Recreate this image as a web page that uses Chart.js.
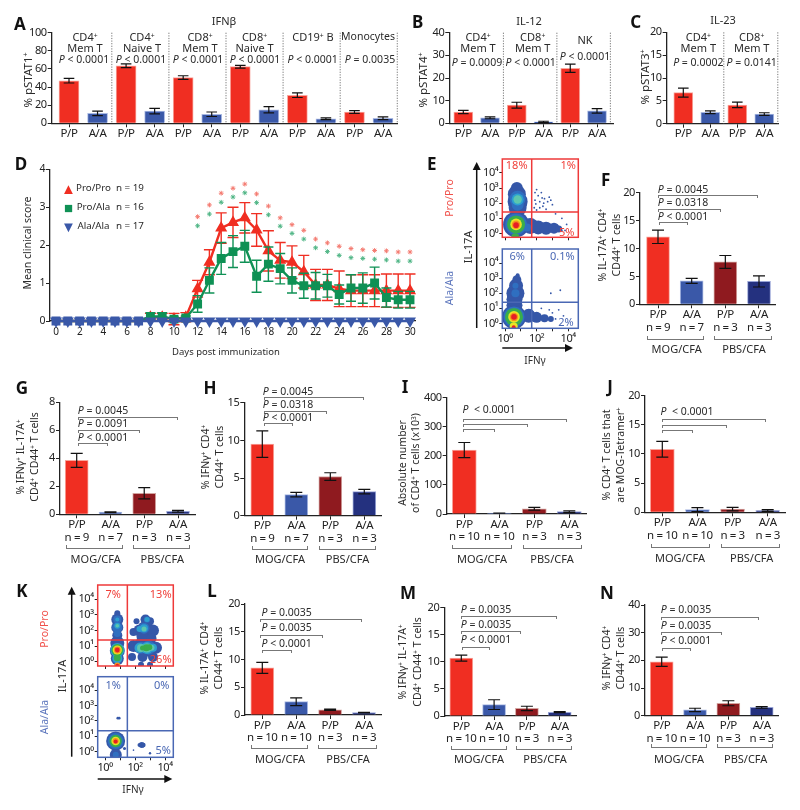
<!DOCTYPE html>
<html>
<head>
<meta charset="utf-8">
<title>pSTAT and EAE panels</title>
<script src="https://cdn.jsdelivr.net/npm/chart.js@4"></script>
<style>
  html, body { margin: 0; padding: 0; background: #fff; }
  #page { position: relative; width: 800px; height: 810px; overflow: hidden; font-family: "Noto Sans", sans-serif; color: #2a2a2a; }
  #page canvas { position: absolute; }
  .t { position: absolute; white-space: nowrap; line-height: 1; transform: translate(-50%, -50%); z-index: 5; }
  .t sup { font-size: 62%; line-height: 0; vertical-align: baseline; position: relative; top: -0.5em; }
  .b { position: absolute; box-sizing: border-box; z-index: 4; }
  svg { position: absolute; left: 0; top: 0; z-index: 4; }
</style>
</head>
<body>
<div id="page"></div>
<script>
// Bar values and error bars, panels A-C
const aValues = [47, 11, 63.5, 13.5, 50.5, 10, 62.5, 15, 31, 5, 12.5, 5.5];
const aErrors = [2.5, 2.5, 2, 3, 2, 2.5, 1.5, 3.5, 2.5, 1, 1.5, 1.5];
const bValues = [5, 2.4, 8, 0.6, 24.3, 5.5];
const bErrors = [0.7, 0.4, 1.3, 0.3, 1.8, 1];
const cValues = [6.8, 2.5, 4.1, 2.1];
const cErrors = [1, 0.3, 0.6, 0.3];

// Panels F-N
const fValues = [12.1, 4.2, 7.6, 4.1];
const fErrors = [1.2, 0.45, 1.15, 1];
const gValues = [3.85, 0.15, 1.5, 0.22];
const gErrors = [0.5, 0.03, 0.4, 0.06];
const hValues = [9.5, 2.8, 5.2, 3.2];
const hErrors = [1.75, 0.3, 0.5, 0.3];
const iValues = [220, 3, 18, 8];
const iErrors = [26, 0.5, 5, 3];
const jValues = [10.8, 0.45, 0.55, 0.3];
const jErrors = [1.35, 0.35, 0.3, 0.15];
const lValues = [8.5, 2.4, 0.95, 0.45];
const lErrors = [1, 0.7, 0.1, 0.05];
const mValues = [10.7, 2.1, 1.4, 0.7];
const mErrors = [0.55, 0.9, 0.4, 0.1];
const nValues = [19.5, 2.1, 4.5, 3];
const nErrors = [1.7, 0.6, 0.9, 0.3];

const genotypes = ['P/P', 'A/A'];
const nSmall = ['n = 9', 'n = 7', 'n = 3', 'n = 3'];
const nLarge = ['n = 10', 'n = 10', 'n = 3', 'n = 3'];

// Panel D, clinical score by day
const days = [0, 1, 2, 3, 4, 5, 6, 7, 8, 9, 10, 11, 12, 13, 14, 15, 16, 17, 18, 19, 20, 21, 22, 23, 24, 25, 26, 27, 28, 29, 30];
const proPro = [0, 0, 0, 0, 0, 0, 0, 0, 0.1, 0.1, 0.05, 0.1, 0.85, 1.55, 2.45, 2.6, 2.72, 2.4, 1.85, 1.6, 1.55, 1.3, 0.95, 0.95, 0.85, 0.8, 0.8, 0.8, 0.8, 0.8, 0.8];
const proProErr = [0, 0, 0, 0, 0, 0, 0, 0, 0.1, 0.1, 0.15, 0.12, 0.22, 0.33, 0.4, 0.4, 0.4, 0.43, 0.53, 0.47, 0.43, 0.43, 0.41, 0.41, 0.47, 0.42, 0.42, 0.42, 0.44, 0.44, 0.44];
const proAla = [0, 0, 0, 0, 0, 0, 0, 0, 0.12, 0.12, 0.05, 0.08, 0.45, 1.07, 1.65, 1.83, 1.97, 1.18, 1.5, 1.38, 1.07, 0.93, 0.93, 0.93, 0.7, 0.87, 0.87, 1, 0.62, 0.56, 0.56];
const proAlaErr = [0, 0, 0, 0, 0, 0, 0, 0, 0.1, 0.1, 0.05, 0.05, 0.22, 0.33, 0.42, 0.42, 0.42, 0.42, 0.45, 0.4, 0.33, 0.33, 0.35, 0.3, 0.25, 0.35, 0.4, 0.42, 0.25, 0.22, 0.22];
const alaAla = [0, 0, 0, 0, 0, 0, 0, 0, 0, 0, 0, 0, 0, 0, 0, 0, 0, 0, 0, 0, 0, 0, 0, 0, 0, 0, 0, 0, 0, 0, 0];
const starDays = [12, 13, 14, 15, 16, 17, 18, 19, 20, 21, 22, 23, 24, 25, 26, 27, 28, 29, 30];
const starsRed = [2.75, 3.06, 3.37, 3.5, 3.61, 3.35, 3.03, 2.72, 2.54, 2.39, 2.16, 2.06, 1.97, 1.91, 1.88, 1.86, 1.85, 1.82, 1.82];
const starsGreen = [2.51, 2.82, 3.13, 3.27, 3.38, 3.12, 2.8, 2.5, 2.31, 2.16, 1.93, 1.83, 1.73, 1.67, 1.65, 1.63, 1.61, 1.58, 1.58];

// Flow plots: [log10 x, log10 y, size, density level], painted in order
const flowEPro = [
  [1.9, 2.7, 0.9, 0], [2.1, 2.5, 0.9, 0], [2.3, 2.7, 0.9, 0], [2.5, 2.3, 0.9, 0], [1.9, 2.2, 0.9, 0], [2.2, 2.1, 0.9, 0],
  [2.7, 2.1, 0.9, 0], [3.0, 1.9, 0.9, 0], [2.4, 1.8, 0.9, 0], [2.8, 2.4, 0.9, 0], [1.85, 1.7, 0.9, 0], [2.6, 1.6, 0.9, 0],
  [3.2, 1.3, 0.9, 0], [2.0, 1.55, 0.9, 0], [3.6, 1.0, 0.9, 0], [3.9, 0.6, 0.9, 0], [3.6, 0.2, 0.9, 0], [3.8, 0.2, 0.9, 0],
  [2.0, 2.9, 0.9, 0], [2.2, 1.7, 0.9, 0], [1.95, 1.95, 0.9, 0], [2.45, 2.0, 0.9, 0], [2.9, 2.2, 0.9, 0], [2.35, 2.35, 0.9, 0],
  [0.7, 0.6, 13, 0], [1.6, 0.5, 8, 0], [2.1, 0.4, 7, 0], [2.6, 0.35, 6.5, 0], [3.1, 0.35, 5.5, 0], [3.4, 0.3, 3.5, 0],
  [0.75, 3.0, 6, 0], [0.75, 2.6, 9, 0], [0.8, 2.1, 10, 0], [0.8, 1.7, 9, 0],
  [0.8, 2.3, 8, 1], [0.8, 1.9, 6, 1], [0.7, 0.6, 10.8, 1], [1.4, 0.4, 4, 1],
  [0.8, 2.25, 6, 2], [0.8, 2.25, 4.2, 3], [0.7, 0.6, 9, 4], [0.65, -0.25, 4, 4],
  [0.7, 0.6, 5.8, 5], [0.7, 0.58, 4.2, 6], [0.7, 0.55, 2.8, 7]
];
const flowEAla = [
  [2.9, 2.0, 0.9, 0], [3.5, 2.2, 0.9, 0], [3.4, 0.9, 0.9, 0], [3.7, 0.5, 0.9, 0], [2.8, 0.9, 0.9, 0], [3.2, 0.3, 0.9, 0], [3.0, 0.7, 0.9, 0], [2.3, 1.0, 0.9, 0],
  [0.57, 0.43, 12, 0], [0.6, 1.2, 8, 0], [0.6, 1.6, 8, 0], [0.66, 2.0, 9, 0], [0.7, 2.5, 7, 0], [0.75, 2.9, 4.5, 0], [0.8, 3.2, 2, 0],
  [1.5, 0.5, 7, 0], [2.0, 0.4, 5.5, 0], [2.5, 0.35, 4, 0], [2.9, 0.3, 3, 0],
  [0.66, 2.0, 4, 1], [0.66, 2.5, 3, 1], [0.57, 0.43, 10.5, 1], [0.57, 0.43, 9, 4], [0.57, 0.43, 5.8, 5], [0.55, -0.2, 4, 5],
  [0.57, 0.43, 4.2, 6], [0.57, 0.43, 2.8, 7], [0.55, -0.25, 2, 7]
];
const flowKPro = [
  [0.82, 0.2, 6.5, 0], [0.82, 0.7, 7.5, 0], [0.82, 1.2, 7, 0], [0.82, 1.7, 5, 0], [0.82, 2.2, 6, 0], [0.82, 2.7, 6, 0], [0.82, 3.1, 3, 0],
  [1.9, 1.9, 4, 0], [2.3, 2.0, 6, 0], [2.7, 2.1, 8, 0], [3.2, 2.0, 6, 0], [2.7, 2.7, 5, 0], [2.1, 2.6, 3, 0], [3.0, 2.6, 4, 0], [2.5, 1.6, 6, 0], [3.1, 1.5, 5, 0],
  [1.9, 1.0, 6, 0], [2.4, 1.0, 8, 0], [2.9, 0.9, 9, 0], [3.4, 0.9, 6, 0], [1.8, 0.3, 4, 0], [2.5, 0.3, 5, 0], [3.2, 0.3, 5, 0], [2.4, -0.2, 3, 0], [3.0, -0.2, 3, 0],
  [0.82, 2.2, 5, 1], [0.82, 2.7, 4, 1], [0.82, 1.8, 3.5, 1], [2.6, 2.15, 5.5, 1], [2.8, 2.7, 3.2, 1], [2.4, 0.9, 6, 1], [2.9, 0.9, 7, 1],
  [0.82, 2.3, 3, 2], [0.82, 2.7, 2, 2], [2.6, 2.15, 4, 2], [2.8, 2.7, 2.5, 2], [2.3, 2.1, 3, 2], [2.3, 0.88, 5, 2], [2.8, 0.88, 6, 2], [3.2, 0.9, 4, 2], [0.82, 0.75, 7, 2], [0.82, 0.2, 5, 2],
  [0.82, 2.3, 1.8, 3], [2.6, 2.1, 2.5, 3], [2.4, 0.88, 4, 3], [2.8, 0.88, 4.5, 3], [3.1, 0.9, 3, 3],
  [2.75, 0.9, 3.5, 4], [2.95, 0.92, 3, 4], [2.5, 0.88, 2.5, 4], [0.82, 0.75, 6, 4], [0.82, 0.25, 3.5, 4],
  [0.82, 0.75, 4.6, 5], [0.82, -0.25, 3, 6], [0.82, 0.75, 3.4, 6], [0.82, 0.75, 2.4, 7], [0.82, -0.25, 1.8, 7]
];
const flowKAla = [
  [0.85, 2.18, 1.3, 0], [0.95, 2.18, 1.3, 0], [2.45, 0.43, 3, 0], [2.3, 0.43, 2, 0], [2.55, 0.43, 2.4, 0], [3.0, -0.1, 1.2, 0], [1.9, 0.1, 0.8, 0],
  [0.71, 0.69, 9.5, 0], [0.72, -0.2, 6, 0], [1.3, 0.2, 1.5, 0],
  [0.71, 0.69, 8, 1], [0.72, -0.2, 3, 1], [0.71, 0.69, 6.2, 4], [0.71, 0.69, 4.3, 5], [0.71, 0.69, 3, 6], [0.71, 0.66, 2, 7]
];
const flowTicks = [0, 1, 2, 3, 4];
const decadeLabels = ['10⁰', '10¹', '10²', '10³', '10⁴'];

const RED = '#f02e22', BLUE = '#3a58a8', DARKRED = '#8f1a1f', NAVY = '#24317f';
const GREEN = '#0f9155', MARKBLUE = '#3a58a8';
const EDGES = { [RED]: '#f8a59c', [BLUE]: '#a9b9e2', [DARKRED]: '#d3a4a0', [NAVY]: '#98a4d6' };
const INK = '#222';
const DENSITY = ['#3557a8', '#2f6fc0', '#2c9fd0', '#5cc6ae', '#39ad4b', '#e9e325', '#f5921e', '#e71d25'];

const page = document.getElementById('page');

const addText = (x, y, html, opts = {}) => {
  const el = document.createElement('div');
  el.className = 't';
  el.innerHTML = html;
  el.style.left = x + 'px';
  el.style.top = y + 'px';
  el.style.fontSize = (opts.size || 11) + 'px';
  if (opts.color) el.style.color = opts.color;
  if (opts.weight) el.style.fontWeight = opts.weight;
  if (opts.rot) el.style.transform = `translate(-50%, -50%) rotate(${opts.rot}deg)`;
  page.appendChild(el);
};

// comparison bracket: tails down. group bracket: tails up.
const addBracket = (x1, x2, y, up) => {
  const el = document.createElement('div');
  el.className = 'b';
  el.style.left = x1 + 'px';
  el.style.width = (x2 - x1) + 'px';
  el.style.height = (up ? 4 : 3) + 'px';
  el.style.top = (up ? y - 4 : y) + 'px';
  const line = '#777';
  el.style.borderLeft = `1px solid ${line}`;
  el.style.borderRight = `1px solid ${line}`;
  el.style[up ? 'borderBottom' : 'borderTop'] = `1px solid ${line}`;
  page.appendChild(el);
};

const letter = (x, y, s) => addText(x, y, s, { size: 17, weight: 700, color: '#111' });

// tighter tick text, Noto is wider than the figure's font
const tightText = {
  id: 'tightText',
  beforeDraw(chart) { chart.ctx.letterSpacing = '-0.4px'; }
};

// whiskers for any dataset carrying an errors array
const whiskers = {
  id: 'whiskers',
  afterDatasetDraw(chart, args) {
    const ds = chart.data.datasets[args.index];
    if (!ds.errors) return;
    const meta = chart.getDatasetMeta(args.index);
    const yScale = chart.scales.y;
    const ctx = chart.ctx;
    ctx.save();
    ctx.strokeStyle = ds.errorColor || '#111';
    ctx.lineWidth = ds.errorWidth || 1.2;
    ds.errors.forEach((err, i) => {
      if (!err) return;
      const x = meta.data[i].x;
      const v = ds.data[i].y;
      const hi = yScale.getPixelForValue(v + err);
      const lo = yScale.getPixelForValue(v - err);
      const cap = ds.capWidth || 6;
      ctx.beginPath();
      ctx.moveTo(x, hi); ctx.lineTo(x, lo);
      ctx.moveTo(x - cap, hi); ctx.lineTo(x + cap, hi);
      ctx.moveTo(x - cap, lo); ctx.lineTo(x + cap, lo);
      ctx.stroke();
    });
    ctx.restore();
  }
};

// dotted separators in panels A-C, at x scale values
const separators = {
  id: 'separators',
  afterDraw(chart, args, opts) {
    if (!opts.at) return;
    const { ctx, chartArea, scales } = chart;
    ctx.save();
    ctx.strokeStyle = '#777';
    ctx.lineWidth = 1;
    ctx.setLineDash([1.2, 1.4]);
    opts.at.forEach(v => {
      const x = scales.x.getPixelForValue(v);
      ctx.beginPath();
      ctx.moveTo(x, chartArea.top);
      ctx.lineTo(x, chartArea.bottom);
      ctx.stroke();
    });
    ctx.restore();
  }
};

// quadrant gates on the flow plots
const gates = {
  id: 'gates',
  afterDraw(chart, args, opts) {
    if (opts.color === undefined) return;
    const { ctx, chartArea: a, scales } = chart;
    ctx.save();
    ctx.strokeStyle = opts.color;
    ctx.lineWidth = 1.5;
    ctx.strokeRect(a.left, a.top, a.right - a.left, a.bottom - a.top);
    const gx = scales.x.getPixelForValue(opts.x);
    const gy = scales.y.getPixelForValue(opts.y);
    ctx.beginPath();
    ctx.moveTo(gx, a.top); ctx.lineTo(gx, a.bottom);
    ctx.moveTo(a.left, gy); ctx.lineTo(a.right, gy);
    ctx.stroke();
    ctx.restore();
  }
};

Chart.register(tightText, whiskers, separators, gates);

// make a canvas whose plot area lands on the given page rectangle
const pinnedCanvas = (left, right, top, bottom, marginLeft, marginBottom) => {
  const cssLeft = Math.floor(left) - marginLeft;
  const cssTop = Math.floor(top) - 10;
  const w = Math.ceil(right - cssLeft) + 14;
  const h = Math.ceil(bottom - cssTop) + marginBottom;
  const canvas = document.createElement('canvas');
  canvas.width = w;
  canvas.height = h;
  canvas.style.left = cssLeft + 'px';
  canvas.style.top = cssTop + 'px';
  canvas.style.width = w + 'px';
  canvas.style.height = h + 'px';
  page.appendChild(canvas);
  return {
    canvas,
    padding: { left: 0, top: top - cssTop, right: w - (right - cssLeft), bottom: 0 },
    yWidth: left - cssLeft,
    xHeight: h - (bottom - cssTop)
  };
};

const axisLine = { color: INK, width: 1.3 };
const tickGrid = { drawOnChartArea: false, drawTicks: true, tickLength: 4, color: INK, offset: false };

const barPanel = (cfg) => {
  const pin = pinnedCanvas(cfg.left, cfg.right, cfg.top, cfg.bottom, 44, 48);
  const n = cfg.values.length;
  const step = (cfg.last - cfg.first) / (n - 1);
  const colors = cfg.values.map((v, i) => cfg.colors[i % cfg.colors.length]);
  new Chart(pin.canvas, {
    type: 'bar',
    data: {
      datasets: [{
        data: cfg.values.map((v, i) => ({ x: i, y: v })),
        backgroundColor: colors,
        borderColor: colors.map(c => EDGES[c]),
        borderWidth: 1,
        barThickness: cfg.barWidth,
        errors: cfg.errors,
        capWidth: cfg.cap || 6
      }]
    },
    options: {
      responsive: false,
      animation: false,
      layout: { padding: pin.padding },
      plugins: { legend: { display: false }, tooltip: { enabled: false }, separators: { at: cfg.separators } },
      scales: {
        x: {
          type: 'linear',
          offset: false,
          min: (cfg.left - cfg.first) / step,
          max: (cfg.right - cfg.first) / step,
          border: axisLine,
          grid: tickGrid,
          afterBuildTicks: s => { s.ticks = cfg.values.map((v, i) => ({ value: i })); },
          afterFit: s => { s.height = pin.xHeight; },
          ticks: {
            autoSkip: false, maxRotation: 0, padding: 0, color: INK,
            font: { family: 'Noto Sans', size: 11.5, lineHeight: 1.1 },
            callback: (v) => cfg.counts ? [genotypes[v % 2], cfg.counts[v]] : genotypes[v % 2]
          }
        },
        y: {
          min: 0, max: cfg.max,
          border: axisLine,
          grid: tickGrid,
          afterFit: s => { s.width = pin.yWidth; },
          ticks: { stepSize: cfg.yStep, padding: 1, color: INK, font: { family: 'Noto Sans', size: 11 } }
        }
      }
    }
  });
};

const flowPanel = (cfg) => {
  const pin = pinnedCanvas(cfg.left, cfg.right, cfg.top, cfg.bottom, 30, 22);
  new Chart(pin.canvas, {
    type: 'bubble',
    data: {
      datasets: [{
        data: cfg.points.map(p => ({ x: p[0], y: p[1], r: p[2], level: p[3] })),
        backgroundColor: ctx => DENSITY[ctx.raw ? ctx.raw.level : 0],
        borderWidth: 0
      }]
    },
    options: {
      responsive: false,
      animation: false,
      layout: { padding: pin.padding },
      plugins: { legend: { display: false }, tooltip: { enabled: false }, gates: { x: cfg.gateX, y: cfg.gateY, color: cfg.color } },
      scales: {
        x: {
          type: 'linear', min: (cfg.left - cfg.x0) / cfg.xPer, max: (cfg.right - cfg.x0) / cfg.xPer,
          border: { display: false },
          grid: { drawOnChartArea: false, tickLength: 3, color: INK },
          afterBuildTicks: s => { s.ticks = flowTicks.map(v => ({ value: v })); },
          afterFit: s => { s.height = pin.xHeight; },
          ticks: {
            display: cfg.showX, autoSkip: false, maxRotation: 0, padding: 1, color: INK,
            font: { family: 'Noto Sans', size: 11 },
            callback: v => v % 2 === 0 ? decadeLabels[v] : ''
          }
        },
        y: {
          type: 'linear', min: (cfg.y0 - cfg.bottom) / cfg.yPer, max: (cfg.y0 - cfg.top) / cfg.yPer,
          border: { display: false },
          grid: { drawOnChartArea: false, tickLength: 3, color: INK },
          afterBuildTicks: s => { s.ticks = flowTicks.map(v => ({ value: v })); },
          afterFit: s => { s.width = pin.yWidth; },
          ticks: { autoSkip: false, padding: 1, color: INK, font: { family: 'Noto Sans', size: 11 }, callback: v => decadeLabels[v] }
        }
      }
    }
  });
};

// ---------- A, B, C ----------
barPanel({ values: aValues, errors: aErrors, colors: [RED, BLUE], left: 51.7, right: 397.7, top: 32.7, bottom: 123.3, first: 69, last: 383, max: 100, yStep: 20, barWidth: 20, cap: 5.3, separators: [1.5, 3.5, 5.5, 7.5, 9.5, 11.5] });
barPanel({ values: bValues, errors: bErrors, colors: [RED, BLUE], left: 449.3, right: 613, top: 32.7, bottom: 123.3, first: 463.3, last: 597, max: 40, yStep: 10, barWidth: 19, cap: 5.3, separators: [1.5, 3.5, 5.5] });
barPanel({ values: cValues, errors: cErrors, colors: [RED, BLUE], left: 666.7, right: 778, top: 32.3, bottom: 123.7, first: 683.3, last: 764.3, max: 20, yStep: 5, barWidth: 19, cap: 5.3, separators: [1.5, 3.5] });

letter(20, 23, 'A'); letter(417.7, 21, 'B'); letter(635.7, 21, 'C');
addText(224, 20, 'IFNβ'); addText(529, 20, 'IL-12'); addText(723, 19, 'IL-23');
addText(28, 80, '% pSTAT1<sup>+</sup>', { rot: -90, size: 11.5 });
addText(423, 80, '% pSTAT4<sup>+</sup>', { rot: -90, size: 11.5 });
addText(645, 77, '% pSTAT3<sup>+</sup>', { rot: -90, size: 11.5 });

[[85, 'CD4<sup>+</sup>', 'Mem T', 84, '&lt; 0.0001'], [142, 'CD4<sup>+</sup>', 'Naive T', 141, '&lt; 0.0001'], [200, 'CD8<sup>+</sup>', 'Mem T', 198, '&lt; 0.0001'], [254.5, 'CD8<sup>+</sup>', 'Naive T', 255, '&lt; 0.0001']].forEach(c => {
  addText(c[0], 36, c[1]); addText(c[0], 47, c[2]); addText(c[3], 58.5, `<i>P</i> ${c[4]}`, { size: 10.5 });
});
addText(313, 36, 'CD19<sup>+</sup> B'); addText(312.7, 58.5, '<i>P</i> &lt; 0.0001', { size: 10.5 });
addText(368, 36, 'Monocytes', { size: 10.5 }); addText(370, 58.5, '<i>P</i> = 0.0035', { size: 10.5 });

addText(478, 36, 'CD4<sup>+</sup>'); addText(478, 47, 'Mem T'); addText(477, 62, '<i>P</i> = 0.0009', { size: 10.5 });
addText(532.7, 36, 'CD8<sup>+</sup>'); addText(532.7, 47, 'Mem T'); addText(530.7, 62, '<i>P</i> &lt; 0.0001', { size: 10.5 });
addText(585, 39, 'NK'); addText(585, 56, '<i>P</i> &lt; 0.0001', { size: 10.5 });
addText(698.3, 36, 'CD4<sup>+</sup>'); addText(698.3, 47, 'Mem T'); addText(698.3, 62, '<i>P</i> = 0.0002', { size: 10.5 });
addText(751.7, 36, 'CD8<sup>+</sup>'); addText(751.7, 47, 'Mem T'); addText(751.7, 62, '<i>P</i> = 0.0141', { size: 10.5 });

// ---------- D ----------
const pinD = pinnedCanvas(50, 415, 169.3, 321, 44, 26);
const xy = (ys, xs = days) => ys.map((y, i) => ({ x: xs[i], y }));
const seriesStyle = (color, style, radius, order) => ({
  borderColor: color, backgroundColor: color, pointBackgroundColor: color, pointBorderColor: color,
  borderWidth: 2.4, pointStyle: style, pointRadius: radius, tension: 0, clip: false, order
});
// before day 8 all three groups sit at zero and the blue marks cover the rest
const onset = 8;
new Chart(pinD.canvas, {
  type: 'line',
  data: {
    datasets: [
      { data: xy(alaAla), ...seriesStyle(MARKBLUE, 'triangle', 4.5, 0), pointRotation: 180 },
      {
        data: xy(proAla), ...seriesStyle(GREEN, 'rect', 4.6, 1), errors: proAlaErr, errorColor: GREEN, errorWidth: 1.4, capWidth: 5,
        pointBackgroundColor: c => c.raw.x < onset ? MARKBLUE : GREEN,
        pointBorderColor: c => c.raw.x < onset ? MARKBLUE : GREEN
      },
      {
        data: xy(proPro), ...seriesStyle(RED, 'triangle', 4.6, 2), errors: proProErr, errorColor: RED, errorWidth: 1.4, capWidth: 5.5,
        pointRadius: c => c.raw.x < onset ? 0 : 4.6
      },
      { data: xy(starsRed, starDays), showLine: false, pointStyle: 'star', pointRadius: 2.4, pointBorderColor: '#f47a70', pointBorderWidth: 1, order: 3 },
      { data: xy(starsGreen, starDays), showLine: false, pointStyle: 'star', pointRadius: 2.4, pointBorderColor: '#4fb585', pointBorderWidth: 1, order: 3 }
    ]
  },
  options: {
    responsive: false,
    animation: false,
    layout: { padding: pinD.padding },
    plugins: { legend: { display: false }, tooltip: { enabled: false } },
    scales: {
      x: {
        type: 'linear', min: (50 - 56) / 11.8, max: (415 - 56) / 11.8,
        border: axisLine, grid: { drawOnChartArea: false, tickLength: 3, color: INK },
        afterBuildTicks: s => { s.ticks = days.map(v => ({ value: v })); },
        afterFit: s => { s.height = pinD.xHeight; },
        ticks: { autoSkip: false, maxRotation: 0, padding: 2, color: INK, font: { family: 'Noto Sans', size: 10 }, callback: v => v % 2 === 0 ? v : '' }
      },
      y: {
        min: 0, max: 4,
        border: axisLine, grid: tickGrid,
        afterFit: s => { s.width = pinD.yWidth; },
        ticks: { stepSize: 1, padding: 1, color: INK, font: { family: 'Noto Sans', size: 10.5 } }
      }
    }
  }
});
letter(21, 163, 'D');
addText(27, 243, 'Mean clinical score', { rot: -90, size: 10.5 });
addText(226, 352, 'Days post immunization', { size: 9.5 });
[[187.7, '▲', RED, 'Pro/Pro', 'n = 19'], [207, '■', GREEN, 'Pro/Ala', 'n = 16'], [226.3, '▼', MARKBLUE, 'Ala/Ala', 'n = 17']].forEach(r => {
  addText(68.5, r[0], r[1], { size: 15, color: r[2] });
  addText(93.5, r[0], r[3], { size: 9.8 });
  addText(130, r[0], r[4], { size: 9.8 });
});

// ---------- E ----------
flowPanel({ points: flowEPro, left: 502.3, right: 578.3, top: 156, bottom: 237.3, x0: 505, xPer: 15.8, y0: 233.3, yPer: 15.7, gateX: 1.69, gateY: 1.42, color: '#ee3a3a', showX: false });
flowPanel({ points: flowEAla, left: 502.3, right: 578.3, top: 247.3, bottom: 328.3, x0: 505, xPer: 15.8, y0: 323.3, yPer: 15.4, gateX: 1.69, gateY: 1.4, color: '#4a68b4', showX: true });
letter(431.7, 163, 'E');
addText(466.7, 247, 'IL-17A', { rot: -90, size: 11 });
addText(449, 198, 'Pro/Pro', { rot: -90, size: 10.5, color: '#f0504a' });
addText(449, 288, 'Ala/Ala', { rot: -90, size: 10.5, color: '#5a74bc' });
addText(535, 360, 'IFNγ', { size: 10 });
addText(516.7, 164, '18%', { size: 11, color: '#f0403a' }); addText(568.3, 164, '1%', { size: 11, color: '#f0403a' }); addText(566.7, 230.7, '5%', { size: 11, color: '#f0403a' });
addText(517.3, 255.3, '6%', { size: 11, color: '#4a68b4' }); addText(562.3, 255.3, '0.1%', { size: 11, color: '#4a68b4' }); addText(566, 320.7, '2%', { size: 11, color: '#4a68b4' });

// ---------- K ----------
flowPanel({ points: flowKPro, left: 97.7, right: 173.3, top: 585, bottom: 666, x0: 105, xPer: 15, y0: 661.7, yPer: 15.6, gateX: 1.49, gateY: 1.39, color: '#ee3a3a', showX: false });
flowPanel({ points: flowKAla, left: 97.7, right: 173.3, top: 676.7, bottom: 757.3, x0: 105, xPer: 15, y0: 751.7, yPer: 15.4, gateX: 1.49, gateY: 1.36, color: '#4a68b4', showX: true });
letter(22, 590, 'K');
addText(60.7, 676, 'IL-17A', { rot: -90, size: 11 });
addText(44, 629, 'Pro/Pro', { rot: -90, size: 10.5, color: '#f0504a' });
addText(44, 716.7, 'Ala/Ala', { rot: -90, size: 10.5, color: '#5a74bc' });
addText(133, 789, 'IFNγ', { size: 10 });
addText(113.3, 593.3, '7%', { size: 11, color: '#f0403a' }); addText(160.7, 593.3, '13%', { size: 11, color: '#f0403a' }); addText(160.7, 658.3, '26%', { size: 11, color: '#f0403a' });
addText(113.3, 684.3, '1%', { size: 11, color: '#4a68b4' }); addText(161.7, 684.3, '0%', { size: 11, color: '#4a68b4' }); addText(163.3, 749, '5%', { size: 11, color: '#4a68b4' });

// arrows for both flow panels
const ns = 'http://www.w3.org/2000/svg';
const svg = document.createElementNS(ns, 'svg');
svg.setAttribute('width', 800);
svg.setAttribute('height', 810);
[[476.7, 328, 476.7, 162], [502.3, 348, 573, 348], [71.7, 756.7, 71.7, 586.7], [97.7, 779, 172.3, 779]].forEach(a => {
  const line = document.createElementNS(ns, 'line');
  const vertical = a[0] === a[2];
  line.setAttribute('x1', a[0]); line.setAttribute('y1', a[1]);
  line.setAttribute('x2', vertical ? a[2] : a[2] - 5); line.setAttribute('y2', vertical ? a[3] + 5 : a[3]);
  line.setAttribute('stroke', '#111'); line.setAttribute('stroke-width', 1.5);
  svg.appendChild(line);
  const head = document.createElementNS(ns, 'polygon');
  head.setAttribute('fill', '#111');
  const [x, y] = [a[2], a[3]];
  head.setAttribute('points', vertical ? `${x},${y} ${x - 4},${y + 8} ${x + 4},${y + 8}` : `${x},${y} ${x - 8},${y - 4} ${x - 8},${y + 4}`);
  svg.appendChild(head);
});
page.appendChild(svg);

// ---------- F G H I J L M N ----------
const four = [RED, BLUE, DARKRED, NAVY];

// common furniture under and above a 4 bar panel
const furniture = (f) => {
  f.yTitle.forEach(t => addText(t[0], f.yTitleY, t[1], { rot: -90, size: t[2] || 10.5 }));
  f.pvals.forEach(p => addText(p[0], p[1], p[2], { size: 10.5 }));
  f.brackets.forEach(b => addBracket(b[0], b[1], b[2], false));
  f.groups.forEach(g => { addBracket(g[0], g[1], f.groupY, true); addText(g[2], f.groupTextY, g[3], { size: 11 }); });
};

barPanel({ values: fValues, errors: fErrors, counts: nSmall, colors: four, left: 640, right: 775, top: 192.7, bottom: 304.3, first: 658, last: 759, max: 20, yStep: 5, barWidth: 23 });
letter(605.7, 179, 'F');
furniture({
  yTitle: [[602, '% IL-17A<sup>+</sup> CD4<sup>+</sup>'], [615.5, 'CD44<sup>+</sup> T cells']], yTitleY: 245,
  pvals: [[683, 189, '<i>P</i> = 0.0045'], [683, 202.3, '<i>P</i> = 0.0318'], [683, 215.7, '<i>P</i> &lt; 0.0001']],
  brackets: [[658.3, 757.7, 195.3], [658.3, 720.7, 208.7], [659, 687.7, 222.3]],
  groups: [[646.7, 704.3, 676.7, 'MOG/CFA'], [714, 771.7, 744, 'PBS/CFA']], groupY: 340, groupTextY: 348
});

barPanel({ values: gValues, errors: gErrors, counts: nSmall, colors: four, left: 60, right: 195, top: 402.3, bottom: 514.3, first: 76.7, last: 178, max: 8, yStep: 2, barWidth: 23 });
letter(22, 387, 'G');
furniture({
  yTitle: [[20, '% IFNγ<sup>+</sup> IL-17A<sup>+</sup>'], [34, 'CD4<sup>+</sup> CD44<sup>+</sup> T cells']], yTitleY: 457,
  pvals: [[103, 410, '<i>P</i> = 0.0045'], [103, 423, '<i>P</i> = 0.0091'], [103, 437, '<i>P</i> &lt; 0.0001']],
  brackets: [[78.3, 177.7, 416.7], [78.3, 140.3, 430], [78.3, 107.7, 443.3]],
  groups: [[65.7, 123.3, 95.7, 'MOG/CFA'], [133.3, 190, 162.3, 'PBS/CFA']], groupY: 549, groupTextY: 557.5
});

barPanel({ values: hValues, errors: hErrors, counts: nSmall, colors: four, left: 244.3, right: 381, top: 402.7, bottom: 515.7, first: 262.3, last: 364.3, max: 15, yStep: 5, barWidth: 23 });
letter(210, 387, 'H');
furniture({
  yTitle: [[205, '% IFNγ<sup>+</sup> CD4<sup>+</sup>'], [219, 'CD44<sup>+</sup> T cells']], yTitleY: 457,
  pvals: [[288, 390.7, '<i>P</i> = 0.0045'], [288, 404, '<i>P</i> = 0.0318'], [288, 417.3, '<i>P</i> &lt; 0.0001']],
  brackets: [[264.3, 364, 397.3], [264.3, 326.7, 411], [264.3, 293.3, 423.3]],
  groups: [[251.7, 308.3, 280, 'MOG/CFA'], [319.3, 375.7, 347.5, 'PBS/CFA']], groupY: 550, groupTextY: 558
});

barPanel({ values: iValues, errors: iErrors, counts: nLarge, colors: four, left: 446.7, right: 586.7, top: 397.7, bottom: 514, first: 464.3, last: 569.3, max: 400, yStep: 100, barWidth: 24 });
letter(405, 386, 'I');
furniture({
  yTitle: [[402, 'Absolute number'], [415, 'of CD4<sup>+</sup> T cells (x10<sup>3</sup>)']], yTitleY: 463,
  pvals: [[489, 409, '<i>P</i> &nbsp;&lt; 0.0001']],
  brackets: [[463.3, 567.3, 418.7], [463.3, 528.3, 423.7], [463.3, 495, 429.3]],
  groups: [[452.3, 512.3, 482, 'MOG/CFA'], [522.7, 582.3, 552, 'PBS/CFA']], groupY: 549.3, groupTextY: 558
});

barPanel({ values: jValues, errors: jErrors, counts: nLarge, colors: four, left: 645, right: 785, top: 395.7, bottom: 512.3, first: 662.3, last: 767.7, max: 20, yStep: 5, barWidth: 24 });
letter(610, 386, 'J');
furniture({
  yTitle: [[605.7, '% CD4<sup>+</sup> T cells that'], [620, 'are MOG-Tetramer<sup>+</sup>']], yTitleY: 455,
  pvals: [[687, 410.7, '<i>P</i> &nbsp;&lt; 0.0001']],
  brackets: [[661.7, 765.7, 419.3], [661.7, 726.7, 424.7], [661.7, 692.7, 430]],
  groups: [[650.7, 710, 680, 'MOG/CFA'], [720.7, 780, 751.7, 'PBS/CFA']], groupY: 548.3, groupTextY: 557
});

barPanel({ values: lValues, errors: lErrors, counts: nLarge, colors: four, left: 245, right: 381, top: 604, bottom: 715, first: 262.3, last: 364, max: 20, yStep: 5, barWidth: 23 });
letter(212, 590, 'L');
furniture({
  yTitle: [[204, '% IL-17A<sup>+</sup> CD4<sup>+</sup>'], [218.3, 'CD44<sup>+</sup> T cells']], yTitleY: 658,
  pvals: [[286.7, 611.7, '<i>P</i> = 0.0035'], [286.7, 627.3, '<i>P</i> = 0.0035'], [286.7, 642.7, '<i>P</i> &lt; 0.0001']],
  brackets: [[260, 361.7, 619], [260, 323.3, 634.7], [262.3, 291.7, 650]],
  groups: [[250.7, 308.3, 280, 'MOG/CFA'], [318.3, 376.7, 348, 'PBS/CFA']], groupY: 749.3, groupTextY: 757.7
});

barPanel({ values: mValues, errors: mErrors, counts: nLarge, colors: four, left: 444.3, right: 576, top: 607.7, bottom: 716, first: 461.3, last: 559.7, max: 20, yStep: 5, barWidth: 23 });
letter(408, 592, 'M');
furniture({
  yTitle: [[402, '% IFNγ<sup>+</sup> IL-17A<sup>+</sup>'], [416.7, 'CD4<sup>+</sup> CD44<sup>+</sup> T cells']], yTitleY: 661.7,
  pvals: [[486, 609.3, '<i>P</i> = 0.0035'], [486, 624, '<i>P</i> = 0.0035'], [486, 639.3, '<i>P</i> &lt; 0.0001']],
  brackets: [[460.7, 556.7, 616], [460.7, 520.7, 631], [462, 490, 646.7]],
  groups: [[450.7, 506.7, 479, 'MOG/CFA'], [516, 571.7, 545, 'PBS/CFA']], groupY: 750, groupTextY: 758
});

barPanel({ values: nValues, errors: nErrors, counts: nLarge, colors: four, left: 645, right: 778.3, top: 605, bottom: 715.7, first: 661.7, last: 761.7, max: 40, yStep: 10, barWidth: 23 });
letter(607, 592, 'N');
furniture({
  yTitle: [[605.7, '% IFNγ<sup>+</sup> CD4<sup>+</sup>'], [620, 'CD44<sup>+</sup> T cells']], yTitleY: 658,
  pvals: [[686, 609.3, '<i>P</i> = 0.0035'], [686, 625, '<i>P</i> = 0.0035'], [686, 640.3, '<i>P</i> &lt; 0.0001']],
  brackets: [[660.7, 759, 616.7], [660.7, 722, 632.3], [661.7, 690.7, 647.7]],
  groups: [[650.7, 707.3, 679, 'MOG/CFA'], [717.3, 773.3, 745.7, 'PBS/CFA']], groupY: 748.3, groupTextY: 758
});
</script>
</body>
</html>
